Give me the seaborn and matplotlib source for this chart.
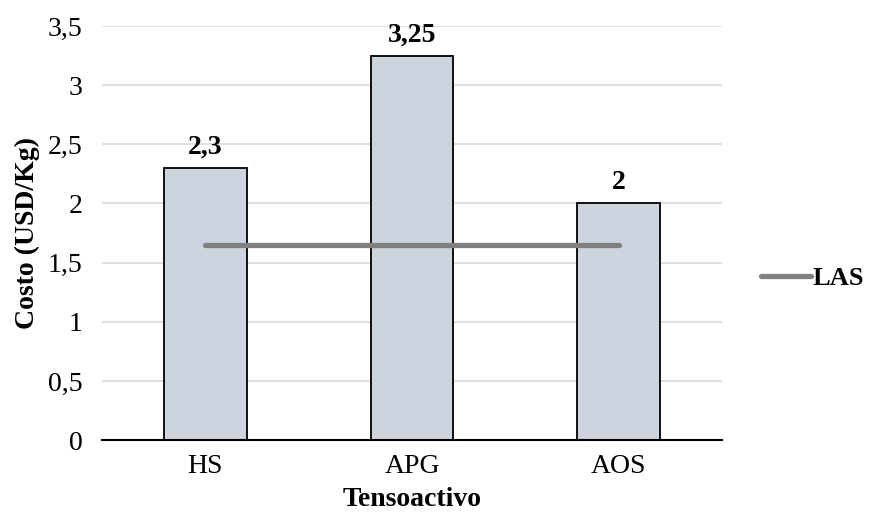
import numpy as np
import pandas as pd
import matplotlib
matplotlib.use("Agg")
import matplotlib.pyplot as plt
import seaborn as sns
from matplotlib.ticker import FuncFormatter

# Cost per tensoactive and the LAS reference cost
categorias = ["HS", "APG", "AOS"]
costos = [2.3, 3.25, 2.0]
costo_las = [1.65, 1.65, 1.65]
etiquetas = ["2,3", "3,25", "2"]

sns.set_theme(style="white")
plt.rcParams["font.family"] = ["Liberation Serif", "DejaVu Serif"]
plt.rcParams["text.color"] = "black"
plt.rcParams["axes.labelcolor"] = "black"

FS = 20

fig = plt.figure(figsize=(8.73, 5.19), dpi=100)
ax = fig.add_axes([0.117, 0.152, 0.71, 0.798])

df = pd.DataFrame({"Tensoactivo": categorias, "Costo": costos})
sns.barplot(data=df, x="Tensoactivo", y="Costo", color="#CDD4DE",
            edgecolor="black", linewidth=1.3, width=0.4, saturation=1,
            ax=ax, zorder=2)

sns.lineplot(x=np.arange(len(categorias)), y=costo_las, color="#808080",
             linewidth=3.8, solid_capstyle="round", label="LAS", ax=ax,
             zorder=3)

for i, (v, t) in enumerate(zip(costos, etiquetas)):
    ax.annotate(t, (i, v), xytext=(0, 6), textcoords="offset points",
                ha="center", va="bottom", fontsize=FS, fontweight="bold",
                color="black")

ax.set_ylim(0, 3.5)
ax.set_xlim(-0.5, 2.5)
ax.set_yticks(np.arange(0, 3.51, 0.5))
ax.yaxis.set_major_formatter(FuncFormatter(
    lambda v, p: (f"{v:g}").replace(".", ",")))
ax.yaxis.grid(True, color="#D9D9D9", linewidth=1.2, zorder=0)
ax.set_axisbelow(True)
for s in ["top", "right", "left"]:
    ax.spines[s].set_visible(False)
ax.spines["bottom"].set_color("black")
ax.spines["bottom"].set_linewidth(1.5)
ax.tick_params(axis="both", length=0, labelsize=FS, colors="black")
ax.tick_params(axis="x", pad=10)
ax.tick_params(axis="y", pad=14)

ax.set_xlabel("Tensoactivo", fontsize=FS, fontweight="bold", labelpad=6)
ax.set_ylabel("Costo (USD/Kg)", fontsize=FS, fontweight="bold", labelpad=6)

leg = ax.legend(loc="center left", bbox_to_anchor=(1.024, 0.39), frameon=False,
                handlelength=1.9, handletextpad=0.05,
                prop={"size": 19, "weight": "bold"})
for t in leg.get_texts():
    t.set_color("black")

fig.savefig("out.png", dpi=100, facecolor="white")
